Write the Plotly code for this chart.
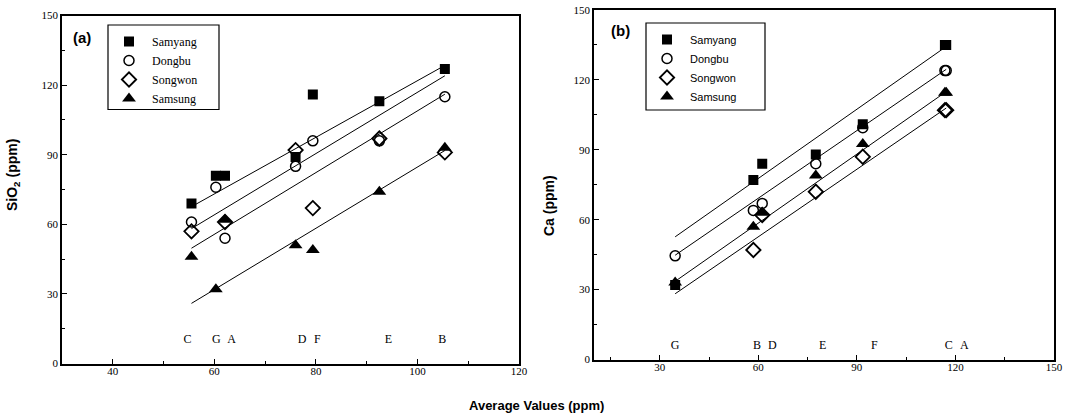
import plotly.graph_objects as go

# ---------------- data ----------------
series_names = ["Samyang", "Dongbu", "Songwon", "Samsung"]

# Panel (a): SiO2
sites_a = ["C", "G", "A", "D", "F", "E", "B"]
x_a = [55.5, 60.3, 62.1, 76.0, 79.4, 92.5, 105.4]
samyang_a = [69, 81, 81, 89, 116, 113, 127]
dongbu_a = [61, 76, 54, 85, 96, 96, 115]
songwon_a = [57, None, 61, 92, 67, 97, 91]
samsung_a = [46, 32, 62, 51, 49, 74, 93]
fit_slope_a = [1.22, 1.32, 1.33, 1.32]
fit_icept_a = [-0.1, -15.1, -24.1, -47.3]
label_x_a = [54.7, 60.4, 63.4, 77.3, 80.3, 94.3, 104.9]
label_y_a = 10

# Panel (b): Ca
sites_b = ["G", "B", "D", "E", "F", "C", "A"]
x_b = [34.7, 58.5, 61.2, 77.5, 91.8, 116.8, 117.2]
samyang_b = [32, 77, 84, 88, 101, 135, 135]
dongbu_b = [44.5, 64, 67, 84, 99.5, 124, 124]
songwon_b = [None, 47, 62, 72, 87, 107, 107]
samsung_b = [33, 57, 63, 79, 92.5, 114.5, 114.5]
fit_slope_b = [0.99, 0.967, 0.987, 0.966]
fit_icept_b = [18.3, 11.2, -0.7, -5.3]
label_x_b = [34.7, 59.6, 64.3, 79.6, 95.3, 118.0, 122.7]
label_y_b = 6

# ---------------- styling ----------------
W, H = 1072, 417
SERIF = "Liberation Serif, Times New Roman, serif"
SANS = "Liberation Sans, Arial, sans-serif"
markers = {
    "Samyang": dict(symbol="square", size=10, color="black"),
    "Dongbu": dict(symbol="circle-open", size=10, color="black", line=dict(width=1.5)),
    "Songwon": dict(symbol="diamond-open", size=11, color="black", line=dict(width=1.8)),
    "Samsung": dict(symbol="triangle-up", size=12, color="black"),
}

fig = go.Figure()

panels = [
    dict(x=x_a, ys=[samyang_a, dongbu_a, songwon_a, samsung_a], slopes=fit_slope_a,
         icepts=fit_icept_a, labels=sites_a, lx=label_x_a, ly=label_y_a,
         xa="x", ya="y", legend="legend"),
    dict(x=x_b, ys=[samyang_b, dongbu_b, songwon_b, samsung_b], slopes=fit_slope_b,
         icepts=fit_icept_b, labels=sites_b, lx=label_x_b, ly=label_y_b,
         xa="x2", ya="y2", legend="legend2"),
]

for p in panels:
    for name, ys in zip(series_names, p["ys"]):
        fig.add_trace(go.Scatter(
            x=p["x"], y=ys, mode="markers", name=name, marker=markers[name],
            xaxis=p["xa"], yaxis=p["ya"], legend=p["legend"], hoverinfo="skip"))
    xmin, xmax = min(p["x"]), max(p["x"])
    for s, b in zip(p["slopes"], p["icepts"]):
        fig.add_trace(go.Scatter(
            x=[xmin, xmax], y=[s * xmin + b, s * xmax + b], mode="lines",
            line=dict(color="black", width=1), showlegend=False,
            xaxis=p["xa"], yaxis=p["ya"], hoverinfo="skip"))
    fig.add_trace(go.Scatter(
        x=p["lx"], y=[p["ly"]] * len(p["lx"]), mode="text", text=p["labels"],
        textfont=dict(family=SERIF, size=12, color="black"), showlegend=False,
        xaxis=p["xa"], yaxis=p["ya"], hoverinfo="skip"))

def ax(domain, rng, dtick, minor, anchor, standoff=0):
    return dict(domain=domain, range=rng, dtick=dtick, tick0=0, showgrid=False,
                zeroline=False, showline=True, linecolor="black", linewidth=1.8,
                mirror=True, ticks="inside", ticklen=5, tickwidth=1.2, tickcolor="black",
                tickfont=dict(family=SERIF, size=11, color="black"),
                ticklabelstandoff=standoff,
                minor=dict(dtick=minor, ticks="inside", ticklen=3, tickcolor="black", tickwidth=1),
                anchor=anchor, automargin=False)

def legend_box(x0, x1, y0, y1):
    return dict(type="rect", xref="paper", yref="paper", x0=x0 / W, x1=x1 / W,
                y0=1 - y1 / H, y1=1 - y0 / H, line=dict(color="black", width=1.2),
                fillcolor="white", layer="above")

def note(text, px, py, size, family=SANS, angle=0):
    return dict(text=text, x=px / W, y=1 - py / H, xref="paper", yref="paper",
                xanchor="center", yanchor="middle", showarrow=False, textangle=angle,
                font=dict(family=family, size=size, color="black"))

fig.update_layout(
    width=W, height=H, margin=dict(l=0, r=0, t=0, b=0),
    paper_bgcolor="white", plot_bgcolor="white",
    xaxis=ax([62 / W, 519 / W], [30, 120], 20, 10, "y", -4),
    yaxis=ax([1 - 363.6 / H, 1 - 15.5 / H], [0, 150], 30, 15, "x"),
    xaxis2=ax([594 / W, 1054 / W], [10, 150], 30, 15, "y2", -4),
    yaxis2=ax([1 - 359.5 / H, 1 - 10 / H], [0, 150], 30, 15, "x2"),
    legend=dict(x=106 / W, y=1 - 27 / H, xanchor="left", yanchor="top",
                borderwidth=0, bgcolor="rgba(0,0,0,0)", itemwidth=36,
                font=dict(family=SERIF, size=12, color="black"), tracegroupgap=0),
    legend2=dict(x=644 / W, y=1 - 25 / H, xanchor="left", yanchor="top",
                 borderwidth=0, bgcolor="rgba(0,0,0,0)", itemwidth=36,
                 font=dict(family=SANS, size=11, color="black"), tracegroupgap=0),
    shapes=[legend_box(108, 219, 25, 109.5), legend_box(646, 765, 23, 110)],
    showlegend=True,
    annotations=[
        note("<b>(a)</b>", 82, 37, 15),
        note("<b>(b)</b>", 620, 31, 15),
        note("<b>SiO<sub>2</sub> (ppm)</b>", 13, 175, 14, angle=-90),
        note("<b>Ca (ppm)</b>", 549, 206, 14, angle=-90),
        note("<b>Average Values (ppm)</b>", 536, 405, 13),
    ],
)

fig.write_html("out.html", config={"displayModeBar": False},
               post_script="document.body.style.margin='0';document.body.style.overflow='hidden';")
